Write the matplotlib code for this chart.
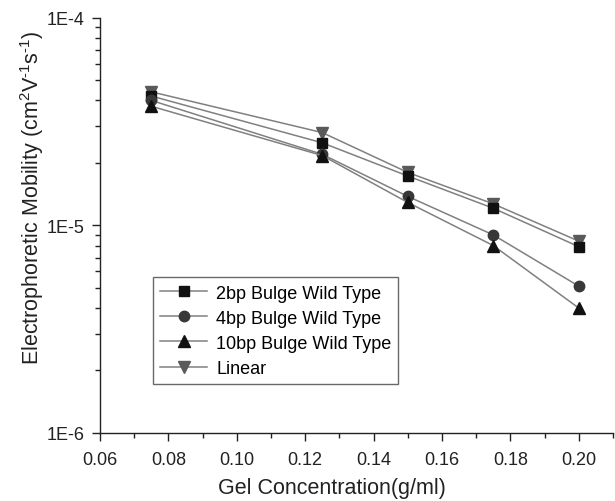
import numpy as np
import matplotlib
matplotlib.use("Agg")
import matplotlib.pyplot as plt
from matplotlib.ticker import FixedLocator, FuncFormatter, MultipleLocator, LogLocator, NullFormatter

plt.rcParams['font.family'] = ['Liberation Sans', 'DejaVu Sans']
plt.rcParams['mathtext.fontset'] = 'custom'
plt.rcParams['mathtext.rm'] = 'Liberation Sans'
plt.rcParams['mathtext.it'] = 'Liberation Sans'
plt.rcParams['mathtext.default'] = 'regular'

conc = [0.075, 0.125, 0.15, 0.175, 0.20]
bulge2 = [4.2e-5, 2.5e-5, 1.73e-5, 1.21e-5, 7.9e-6]
bulge4 = [4.0e-5, 2.2e-5, 1.38e-5, 9.0e-6, 5.1e-6]
bulge10 = [3.75e-5, 2.17e-5, 1.29e-5, 8.0e-6, 4.0e-6]
linear = [4.4e-5, 2.8e-5, 1.8e-5, 1.27e-5, 8.4e-6]

names = ['2bp Bulge Wild Type', '4bp Bulge Wild Type', '10bp Bulge Wild Type', 'Linear']

fig = plt.figure(figsize=(6.15, 5.02), dpi=100)
ax = fig.add_axes([0.1626, 0.1355, 0.834, 0.827])

line_col = '#808080'
ax.plot(conc, linear, color=line_col, lw=1.1, marker='v', ms=8, mfc='#5a5a5a', mec='#5a5a5a', label=names[3], zorder=2)
ax.plot(conc, bulge2, color=line_col, lw=1.1, marker='s', ms=7, mfc='#111111', mec='#111111', label=names[0], zorder=3)
ax.plot(conc, bulge4, color=line_col, lw=1.1, marker='o', ms=7.5, mfc='#383838', mec='#383838', label=names[1], zorder=3)
ax.plot(conc, bulge10, color=line_col, lw=1.1, marker='^', ms=8, mfc='#111111', mec='#111111', label=names[2], zorder=3)

ax.set_yscale('log')
ax.set_ylim(1e-6, 1e-4)
ax.set_xlim(0.06, 0.21)

ax.yaxis.set_major_locator(FixedLocator([1e-6, 1e-5, 1e-4]))
ax.yaxis.set_major_formatter(FuncFormatter(lambda v, p: '1E%d' % round(np.log10(v))))
ax.yaxis.set_minor_locator(LogLocator(base=10, subs=np.arange(2, 10)))
ax.yaxis.set_minor_formatter(NullFormatter())

ax.xaxis.set_major_locator(MultipleLocator(0.02))
ax.xaxis.set_minor_locator(MultipleLocator(0.01))
ax.xaxis.set_major_formatter(FuncFormatter(lambda v, p: '%.2f' % v))

for s in ['top', 'right']:
    ax.spines[s].set_visible(False)
for s in ['left', 'bottom']:
    ax.spines[s].set_color('#222222')
    ax.spines[s].set_linewidth(1.0)

ax.tick_params(which='major', direction='out', length=6, width=1, labelsize=13, colors='#222222')
ax.tick_params(which='minor', direction='out', length=3.5, width=1, colors='#222222')
ax.tick_params(axis='x', which='major', pad=7)
ax.tick_params(axis='y', which='major', pad=5)

ax.set_xlabel('Gel Concentration(g/ml)', fontsize=15.5, color='#222222')
ax.xaxis.set_label_coords(0.452, -0.105)
ax.set_ylabel('Electrophoretic Mobility (cm$^{2}$V$^{\\text{-}1}$s$^{\\text{-}1}$)', fontsize=15.5, color='#222222')
ax.yaxis.set_label_coords(-0.106, 0.57)

handles, labels = ax.get_legend_handles_labels()
order = [1, 2, 3, 0]
leg = ax.legend([handles[i] for i in order], [labels[i] for i in order],
                loc='upper left', bbox_to_anchor=(0.103, 0.375), fontsize=13,
                frameon=True, fancybox=False, edgecolor='#444444', handlelength=2.6,
                handletextpad=0.5, borderpad=0.4, labelspacing=0.45, borderaxespad=0)
leg.get_frame().set_linewidth(1.0)

fig.savefig('out.png', dpi=100)
